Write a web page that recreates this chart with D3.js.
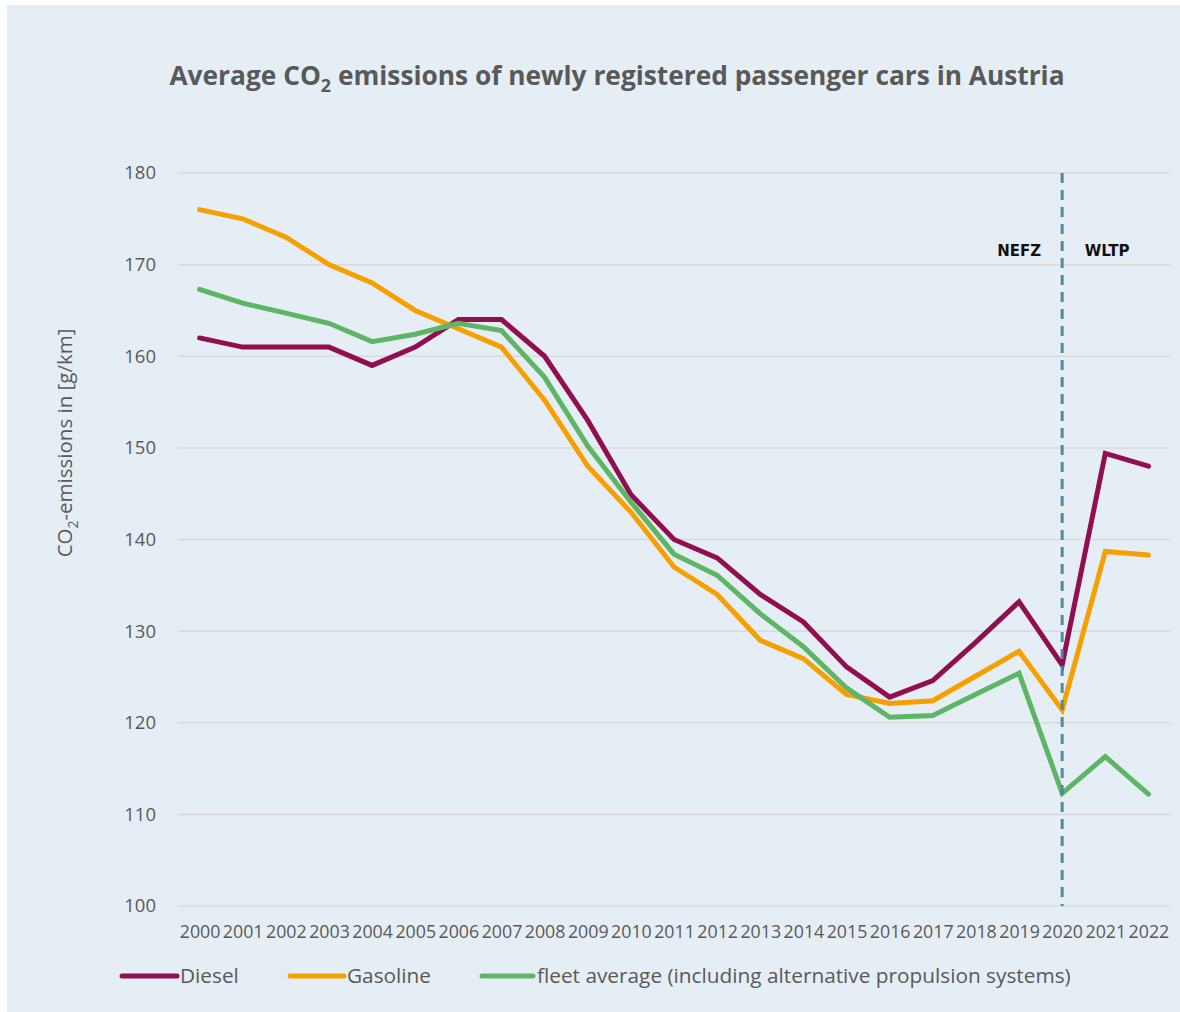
<!DOCTYPE html>
<html>
<head>
<meta charset="utf-8">
<script src="https://cdn.jsdelivr.net/npm/d3@7/dist/d3.min.js"></script>
<style>
  html, body { margin: 0; padding: 0; background: #ffffff; }
  svg { display: block; }
</style>
</head>
<body>
<svg id="chart" width="1180" height="1012"></svg>
<script>
// Years on the x axis
const years = ["2000","2001","2002","2003","2004","2005","2006","2007","2008","2009","2010",
               "2011","2012","2013","2014","2015","2016","2017","2018","2019","2020","2021","2022"];

// Average CO2 emissions of new passenger cars, g/km
const diesel = [162, 161, 161, 161, 159, 161, 164, 164, 160, 153, 144.9,
                140, 138, 134, 131, 126.1, 122.8, 124.6, 128.8, 133.2, 126.3, 149.4, 148.0];
const gasoline = [176, 175, 173, 170, 168, 165, 163, 161, 155.2, 148, 143,
                  137, 134, 129, 127, 123.1, 122.1, 122.4, 125.1, 127.8, 121.4, 138.7, 138.3];
const fleet = [167.3, 165.8, 164.7, 163.6, 161.6, 162.4, 163.6, 162.8, 157.7, 150.2, 144.1,
               138.4, 136.1, 131.9, 128.3, 123.8, 120.6, 120.8, 123.1, 125.4, 112.3, 116.3, 112.2];

const yTicks = [100, 110, 120, 130, 140, 150, 160, 170, 180];
const seriesNames = ["Diesel", "Gasoline", "fleet average (including alternative propulsion systems)"];
const seriesColors = ["#920f4f", "#f59f00", "#5db565"];
const cycleBreakYear = "2020";
const cycleLabels = ["NEFZ", "WLTP"];

const svg = d3.select("#chart");
const font = "'Open Sans', sans-serif";
const textGrey = "#595959";

// panel background
svg.append("rect")
  .attr("x", 7).attr("y", 5).attr("width", 1173).attr("height", 1007)
  .attr("fill", "#e5eef4");

// title
const title = svg.append("text")
  .attr("x", 617).attr("y", 85)
  .attr("text-anchor", "middle")
  .attr("font-family", font).attr("font-weight", 700).attr("font-size", 26.3)
  .attr("fill", textGrey);
title.append("tspan").text("Average CO");
title.append("tspan").attr("font-size", 18).attr("dy", 7).text("2");
title.append("tspan").attr("dy", -7).text(" emissions of newly registered passenger cars in Austria");

const plot = { left: 178, right: 1170, top: 173, bottom: 906 };

const x = d3.scalePoint().domain(years).range([plot.left, plot.right]).padding(0.5);
const y = d3.scaleLinear().domain([100, 180]).range([plot.bottom, plot.top]);

// horizontal gridlines
svg.append("g").selectAll("line").data(yTicks).join("line")
  .attr("x1", plot.left).attr("x2", plot.right)
  .attr("y1", d => y(d)).attr("y2", d => y(d))
  .attr("stroke", "#d9d9d9").attr("stroke-width", 1.5);

// y axis labels
const yAxis = svg.append("g")
  .attr("transform", `translate(${plot.left - 22},0)`)
  .call(d3.axisLeft(y).tickValues(yTicks).tickSize(0).tickPadding(0));
yAxis.select(".domain").remove();
yAxis.selectAll("text")
  .attr("font-family", font).attr("font-size", 18.5).attr("fill", textGrey);

// x axis labels
const xAxis = svg.append("g")
  .attr("transform", `translate(0,${plot.bottom + 19})`)
  .call(d3.axisBottom(x).tickSize(0).tickPadding(0));
xAxis.select(".domain").remove();
xAxis.selectAll("text")
  .attr("font-family", font).attr("font-size", 17.8).attr("fill", textGrey)
  .attr("dy", "0.71em");

// y axis title
const yTitle = svg.append("text")
  .attr("transform", "translate(72,443) rotate(-90)")
  .attr("text-anchor", "middle")
  .attr("font-family", font).attr("font-size", 20.5).attr("fill", textGrey);
yTitle.append("tspan").text("CO");
yTitle.append("tspan").attr("font-size", 14).attr("dy", 6).text("2");
yTitle.append("tspan").attr("dy", -6).text("-emissions in [g/km]");

// NEFZ / WLTP boundary
const xb = x(cycleBreakYear);

svg.selectAll("text.cycle").data(cycleLabels).join("text")
  .attr("class", "cycle")
  .attr("x", (d, i) => i === 0 ? xb - 43 : xb + 45)
  .attr("y", 256)
  .attr("text-anchor", "middle")
  .attr("font-family", "'DejaVu Sans', sans-serif").attr("font-weight", 700).attr("font-size", 15)
  .attr("fill", "#111111")
  .text(d => d);

// series lines
const series = [diesel, gasoline, fleet];
const line = d3.line().x((d, i) => x(years[i])).y(d => y(d));

svg.append("g").selectAll("path").data(series).join("path")
  .attr("d", d => line(d))
  .attr("fill", "none")
  .attr("stroke", (d, i) => seriesColors[i])
  .attr("stroke-width", 5)
  .attr("stroke-linecap", "round")
  .attr("stroke-linejoin", "miter");

// dashed boundary drawn over the lines
svg.append("line")
  .attr("x1", xb).attr("x2", xb)
  .attr("y1", plot.top).attr("y2", plot.bottom)
  .attr("stroke", "#4a86a2").attr("stroke-width", 3)
  .attr("stroke-dasharray", "10,7")
  .attr("opacity", 0.95);

// legend
const legendY = 976;
const legendItems = [
  { x1: 122, x2: 177, tx: 180 },
  { x1: 290, x2: 344, tx: 347 },
  { x1: 482, x2: 533, tx: 537 }
];
const legend = svg.append("g");
legend.selectAll("line").data(legendItems).join("line")
  .attr("x1", d => d.x1).attr("x2", d => d.x2)
  .attr("y1", legendY).attr("y2", legendY)
  .attr("stroke", (d, i) => seriesColors[i])
  .attr("stroke-width", 5).attr("stroke-linecap", "round");
legend.selectAll("text").data(legendItems).join("text")
  .attr("x", d => d.tx).attr("y", legendY + 7)
  .attr("font-family", font).attr("font-size", 20.8).attr("fill", textGrey)
  .text((d, i) => seriesNames[i]);
</script>
</body>
</html>
